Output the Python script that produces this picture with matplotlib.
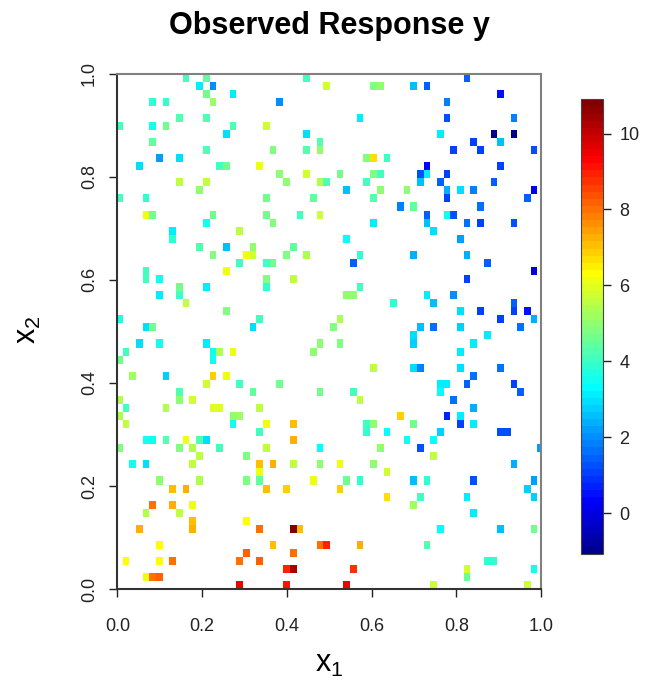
import numpy as np
import matplotlib
matplotlib.use("Agg")
import matplotlib.pyplot as plt
from matplotlib.colors import ListedColormap, Normalize

plt.rcParams['font.family'] = ['Liberation Sans', 'DejaVu Sans']

# quilt-style 64 x 64 grid over the unit square (grid centres)
NX, NY = 64, 64
X_CENTRE0, X_STEP = 0.0045, 0.01579
Y_CENTRE0, Y_STEP = 0.0078, 0.015625
Z_MIN, Z_MAX = -1.07, 10.9

# observed cells: grid row (0 = top row), grid column, response y
cell_row = [0, 0, 0, 0,
            1, 1, 1, 1, 1, 1, 1,
            2, 2, 2,
            3, 3, 3, 3, 3,
            5, 5, 5, 5, 5,
            6, 6, 6, 6, 6,
            7, 7, 7, 7, 7,
            8, 8, 8, 8,
            9, 9, 9, 9, 9, 9, 9,
            10, 10, 10, 10, 10,
            11, 11, 11, 11, 11, 11,
            12, 12, 12, 12, 12, 12, 12, 12,
            13, 13, 13, 13, 13, 13, 13, 13, 13,
            14, 14, 14, 14, 14, 14, 14, 14,
            15, 15, 15, 15, 15, 15, 15,
            16, 16, 16,
            17, 17, 17, 17, 17, 17, 17, 17, 17,
            18, 18, 18, 18, 18, 18, 18,
            19, 19, 19,
            20, 20, 20,
            21, 21, 21, 21,
            22, 22, 22, 22, 22, 22, 22, 22,
            23, 23, 23, 23, 23,
            24, 24, 24,
            25, 25, 25, 25, 25,
            26, 26, 26, 26,
            27, 27, 27, 27, 27, 27,
            28, 28, 28, 28,
            29, 29, 29, 29, 29,
            30, 30, 30, 30, 30,
            31, 31, 31, 31, 31, 31, 31, 31,
            32, 32,
            33, 33, 33, 33, 33, 33, 33,
            34, 34, 34, 34, 34, 34,
            35, 35,
            36, 36, 36, 36, 36,
            37, 37, 37, 37, 37,
            38, 38, 38, 38, 38, 38, 38,
            39, 39, 39, 39, 39, 39,
            40, 40, 40, 40, 40,
            41, 41, 41, 41, 41, 41,
            42, 42, 42, 42, 42, 42,
            43, 43, 43, 43, 43, 43, 43, 43, 43,
            44, 44, 44, 44, 44, 44,
            45, 45, 45, 45, 45, 45, 45, 45, 45,
            46, 46, 46, 46, 46, 46, 46, 46, 46,
            47, 47, 47,
            48, 48, 48, 48, 48, 48, 48, 48, 48, 48,
            49, 49,
            50, 50, 50, 50, 50, 50, 50, 50, 50, 50, 50,
            51, 51, 51, 51, 51, 51,
            52, 52, 52, 52,
            53, 53, 53, 53,
            54, 54, 54,
            55, 55,
            56, 56, 56, 56, 56, 56, 56, 56,
            58, 58, 58, 58, 58, 58,
            59, 59,
            60, 60, 60, 60, 60, 60, 60,
            61, 61, 61, 61, 61,
            62, 62, 62, 62,
            63, 63, 63, 63, 63]

cell_col = [10, 13, 28, 52,
            12, 14, 31, 38, 39, 44, 46,
            13, 17, 57,
            5, 7, 14, 24, 49,
            9, 13, 36, 49, 59,
            0, 5, 7, 17, 22,
            16, 28, 48, 56, 59,
            5, 30, 53, 57,
            13, 23, 28, 30, 50, 54, 62,
            6, 9, 37, 38, 40,
            3, 15, 16, 21, 46, 57,
            24, 28, 33, 38, 39, 45, 46, 49,
            9, 13, 25, 30, 31, 37, 45, 48, 56,
            12, 34, 39, 43, 49, 51, 53, 62,
            0, 4, 22, 29, 38, 49, 61,
            42, 44, 54,
            4, 5, 14, 22, 27, 30, 46, 49, 50,
            13, 23, 38, 46, 52, 54, 59,
            8, 18, 47,
            8, 34, 51,
            12, 16, 20, 26,
            14, 19, 20, 25, 28, 36, 44, 52,
            18, 22, 23, 35, 55,
            4, 16, 62,
            4, 6, 22, 26, 52,
            9, 13, 22, 36,
            6, 9, 34, 35, 46, 50,
            10, 41, 47, 59,
            16, 51, 54, 59, 61,
            0, 21, 33, 57, 62,
            4, 5, 20, 32, 45, 47, 51, 60,
            44, 55,
            3, 6, 13, 30, 33, 44, 53,
            1, 14, 15, 17, 29, 51,
            0, 14,
            38, 44, 45, 51, 57,
            2, 7, 14, 16, 53,
            13, 18, 24, 48, 49, 52, 59,
            9, 20, 30, 35, 48, 60,
            0, 9, 11, 36, 50,
            1, 7, 14, 15, 21, 53,
            0, 17, 18, 42, 49, 51,
            1, 17, 22, 26, 37, 38, 44, 51, 53,
            21, 37, 40, 48, 57, 58,
            4, 5, 7, 10, 12, 13, 26, 43, 47,
            0, 9, 11, 15, 22, 30, 39, 45, 63,
            12, 19, 47,
            2, 4, 11, 21, 23, 26, 30, 33, 38, 59,
            21, 40,
            6, 12, 19, 21, 29, 34, 36, 44, 46, 53, 62,
            8, 10, 22, 25, 33, 61,
            40, 45, 52, 62,
            5, 8, 11, 44,
            4, 9, 53,
            11, 19,
            3, 11, 21, 26, 27, 48, 57, 62,
            6, 23, 30, 31, 36, 46,
            19, 26,
            1, 6, 8, 18, 21, 55, 56,
            25, 26, 35, 52, 62,
            4, 5, 6, 52,
            18, 25, 34, 47, 61]

cell_val = [4.0, 4.5, 4.0, 1.5,
            3.1, 2.0, 5.8, 4.8, 5.0, 2.5, 1.5,
            4.7, 3.1, 0.6,
            3.8, 3.8, 5.2, 2.0, 1.9,
            4.2, 4.3, 3.2, 1.2, 1.8,
            4.0, 3.6, 4.7, 4.2, 5.7,
            3.0, 3.0, 3.1, -0.9, -0.9,
            4.5, 4.2, 1.0, 2.5,
            4.3, 4.9, 4.3, 5.0, 1.0, 1.0, 1.2,
            2.2, 3.0, 4.8, 6.6, 4.0,
            3.0, 4.0, 4.7, 6.1, 0.3, 1.0,
            5.0, 5.8, 4.7, 4.8, 4.0, 1.3, 3.1, 1.0,
            5.5, 5.5, 5.0, 5.3, 4.2, 4.0, 2.6, 1.5, 1.5,
            5.0, 2.5, 5.0, 5.0, 2.3, 3.0, 1.8, 0.2,
            4.0, 3.8, 4.7, 4.5, 4.2, 1.0, 1.5,
            1.8, 4.4, 1.6,
            6.2, 4.7, 4.6, 4.7, 4.0, 5.8, 1.5, 3.6, 1.3,
            3.6, 4.8, 3.1, 2.5, 1.7, 1.0, 1.2,
            3.1, 5.5, 3.0,
            3.9, 3.4, 2.2,
            4.3, 2.5, 5.0, 4.4,
            4.8, 6.1, 5.7, 4.8, 5.3, 3.9, 2.3, 2.3,
            4.0, 4.0, 4.7, 1.5, 1.4,
            4.0, 6.1, 0.0,
            4.0, 3.6, 4.8, 5.6, 1.0,
            4.7, 3.1, 3.8, 4.0,
            3.1, 4.0, 5.0, 5.0, 3.1, 2.0,
            5.5, 3.8, 2.5, 1.5,
            4.8, 3.0, 1.0, 1.0, 0.5,
            3.7, 4.0, 5.3, 1.0, 2.3,
            3.0, 4.6, 3.0, 4.8, 2.5, 1.7, 2.7, 1.7,
            3.0, 3.1,
            3.0, 3.6, 3.2, 5.0, 4.8, 2.8, 3.1,
            4.0, 3.6, 5.3, 6.1, 5.0, 3.1,
            4.7, 3.5,
            5.5, 3.0, 1.8, 3.0, 1.6,
            5.2, 2.8, 6.9, 6.1, 1.6,
            5.7, 4.0, 4.7, 3.2, 3.2, 1.5, 1.0,
            4.2, 4.5, 4.6, 4.0, 3.3, 1.4,
            5.3, 5.0, 5.8, 5.5, 1.7,
            4.0, 5.3, 6.0, 6.0, 5.5, 2.3,
            5.3, 5.0, 5.2, 6.8, 0.8, 3.2,
            5.5, 3.6, 6.2, 7.0, 4.0, 5.0, 4.7, 1.0, 3.2,
            4.0, 3.8, 3.4, 2.8, 1.3, 1.3,
            3.6, 3.6, 4.3, 6.2, 4.2, 3.0, 7.2, 3.6, 3.3,
            4.8, 4.8, 5.3, 4.0, 5.5, 3.3, 5.0, 1.2, 2.2,
            5.5, 4.8, 5.5,
            3.5, 3.0, 5.6, 7.0, 7.2, 5.6, 5.0, 6.2, 5.0, 2.4,
            6.2, 5.8,
            5.0, 5.3, 4.8, 4.5, 6.2, 4.6, 3.8, 2.5, 3.8, 1.2, 2.2,
            7.0, 7.2, 7.0, 6.8, 6.8, 2.8,
            6.6, 4.0, 3.2, 2.8,
            8.0, 7.3, 6.2, 5.2,
            5.3, 5.6, 3.1,
            7.0, 6.3,
            7.2, 7.2, 8.0, 10.8, 7.0, 3.4, 2.5, 4.6,
            6.4, 7.0, 8.0, 8.9, 7.2, 4.3,
            8.2, 8.0,
            6.3, 6.3, 8.0, 8.0, 8.2, 3.8, 3.8,
            8.9, 10.3, 8.8, 5.8, 3.6,
            6.2, 8.0, 8.2, 4.7,
            9.5, 9.2, 9.5, 5.7, 5.7]

# fields::tim.colors(64)
tim_colors = ["#00008F", "#00009F", "#0000AF", "#0000BF", "#0000CF", "#0000DF", "#0000EF", "#0000FF",
              "#0010FF", "#0020FF", "#0030FF", "#0040FF", "#0050FF", "#0060FF", "#0070FF", "#0080FF",
              "#008FFF", "#009FFF", "#00AFFF", "#00BFFF", "#00CFFF", "#00DFFF", "#00EFFF", "#00FFFF",
              "#10FFEF", "#20FFDF", "#30FFCF", "#40FFBF", "#50FFAF", "#60FF9F", "#70FF8F", "#80FF80",
              "#8FFF70", "#9FFF60", "#AFFF50", "#BFFF40", "#CFFF30", "#DFFF20", "#EFFF10", "#FFFF00",
              "#FFEF00", "#FFDF00", "#FFCF00", "#FFBF00", "#FFAF00", "#FF9F00", "#FF8F00", "#FF8000",
              "#FF7000", "#FF6000", "#FF5000", "#FF4000", "#FF3000", "#FF2000", "#FF1000", "#FF0000",
              "#EF0000", "#DF0000", "#CF0000", "#BF0000", "#AF0000", "#9F0000", "#8F0000", "#800000"]

assert len(cell_row) == len(cell_col) == len(cell_val)

# fill the grid (row 0 of the picture is the top one)
z = np.full((NY, NX), np.nan)
iy = NY - 1 - np.array(cell_row)
z[iy, np.array(cell_col)] = cell_val
z = np.ma.masked_invalid(z)

x_edges = X_CENTRE0 + (np.arange(NX + 1) - 0.5) * X_STEP
y_edges = Y_CENTRE0 + (np.arange(NY + 1) - 0.5) * Y_STEP

cmap = ListedColormap(tim_colors)
norm = Normalize(vmin=Z_MIN, vmax=Z_MAX)

fig = plt.figure(figsize=(6.54, 6.85), dpi=100)
ax = fig.add_axes([0.1794, 0.1397, 0.6479, 0.7530])
mesh = ax.pcolormesh(x_edges, y_edges, z, cmap=cmap, norm=norm, antialiased=False)
ax.set_xlim(0, 1)
ax.set_ylim(0, 1)

ticks = np.arange(0, 1.01, 0.2)
ax.set_xticks(ticks)
ax.set_yticks(ticks)
ax.set_xticklabels(['%.1f' % t for t in ticks])
ax.set_yticklabels(['%.1f' % t for t in ticks], rotation=90, va='center')
ax.tick_params(direction='out', length=6, width=1, labelsize=13, colors='#222222')
ax.tick_params(axis='x', pad=15)
ax.tick_params(axis='y', pad=8)
for side in ['top', 'right']:
    ax.spines[side].set_color('#808080')
    ax.spines[side].set_linewidth(1.5)
for side in ['left', 'bottom']:
    ax.spines[side].set_color('#333333')
    ax.spines[side].set_linewidth(1.5)

fig.text(329 / 654, 1 - 26 / 685, 'Observed Response y', ha='center', va='center',
         fontsize=22, fontweight='bold')
fig.text(329 / 654, 1 - 664 / 685, r'$\mathregular{x_1}$', ha='center', va='center', fontsize=22)
fig.text(28 / 654, 1 - 330 / 685, r'$\mathregular{x_2}$', ha='center', va='center', fontsize=22,
         rotation=90)

# colour legend strip
cax = fig.add_axes([0.8879, 0.1912, 0.0336, 0.6638])
cb = fig.colorbar(mesh, cax=cax, ticks=[0, 2, 4, 6, 8, 10])
cb.outline.set_edgecolor('#444444')
cb.outline.set_linewidth(0.8)
cax.tick_params(length=6, width=1, labelsize=13, pad=6, colors='#222222')

fig.savefig('out.png', dpi=100)
